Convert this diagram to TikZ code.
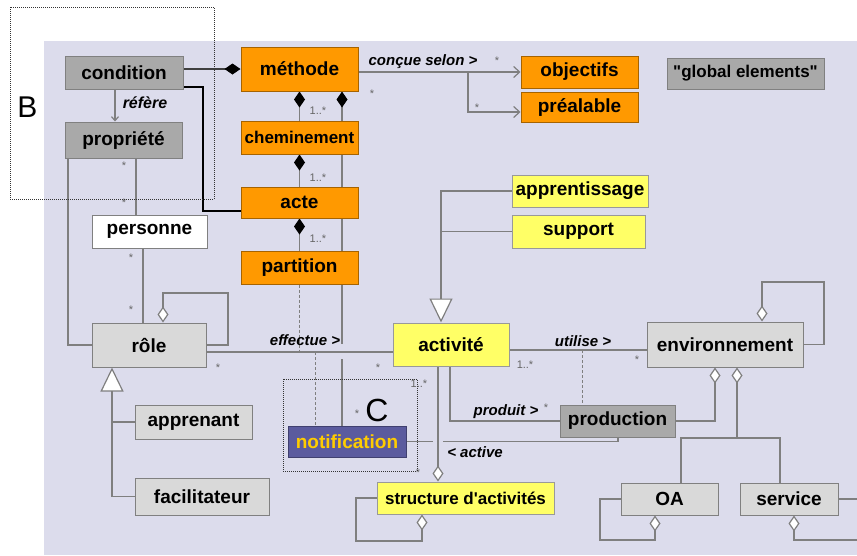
\documentclass[tikz,border=0pt]{standalone}
\usepackage{fontspec}
\setmainfont{Liberation Sans}[Ligatures=TeXOff]
\usetikzlibrary{arrows.meta}

\definecolor{paper}{HTML}{DCDCEC}
\definecolor{umlorange}{HTML}{FF9900}
\definecolor{umlyellow}{HTML}{FFFF66}
\definecolor{umldark}{HTML}{A9A9A9}
\definecolor{umllight}{HTML}{D9D9D9}
\definecolor{umlnavy}{HTML}{5B5B9E}
\definecolor{umlgold}{HTML}{FFCC00}
\definecolor{edgegray}{HTML}{7F7F7F}

\pgfdeclarelayer{bg}
\pgfdeclarelayer{edges}
\pgfsetlayers{bg,edges,main}

\begin{document}
\begin{tikzpicture}[x=1pt, y=-1pt,
	classbox/.style={draw=black!50, line width=1pt, inner sep=0pt,
		font=\bfseries\fontsize{19}{21}\selectfont},
	darkbox/.style={classbox, fill=umldark},
	lightbox/.style={classbox, fill=umllight},
	whitebox/.style={classbox, fill=white},
	orangebox/.style={classbox, fill=umlorange, draw=umlorange!65!black},
	yellowbox/.style={classbox, fill=umlyellow, draw=black!40},
	notebox/.style={classbox, fill=umlnavy, draw=umlnavy!70!black, text=umlgold},
	conn/.style={draw=edgegray, line width=1.2pt},
	dashline/.style={conn, dash pattern=on 3pt off 2pt, line width=1pt},
	comp start/.style={{Diamond[length=16pt,width=11pt,color=black]}-},
	comp end/.style={-{Diamond[length=16pt,width=11pt,color=black]}},
	aggr end/.style={-{Diamond[length=16pt,width=11pt,fill=white]}},
	gen end/.style={-{Triangle[length=24pt,width=23pt,fill=white]}},
	nav end/.style={-{Straight Barb[length=6pt,width=11pt]}},
	lbl/.style={inner sep=0pt, font=\bfseries\itshape\fontsize{15}{17}\selectfont},
	mult/.style={inner sep=0pt, text=black!60, font=\fontsize{11}{12}\selectfont},
	marker/.style={inner sep=0pt, font=\fontsize{30}{32}\selectfont}]

	\useasboundingbox (0,0) rectangle (857,555);
	\begin{pgfonlayer}{bg}
		\fill[paper] (44,41) rectangle (857,555);
	\end{pgfonlayer}

	% classes
	\node[darkbox, minimum width=118pt, minimum height=33pt] (condition) at (124,72.5) {condition};
	\node[darkbox, minimum width=117pt, minimum height=36pt] (propriete) at (123.5,140) {propriété};
	\node[orangebox, minimum width=117pt, minimum height=44pt] (methode) at (299.5,69) {méthode};
	\node[orangebox, minimum width=117pt, minimum height=33pt,
		font=\bfseries\fontsize{17}{19}\selectfont] (cheminement) at (299.5,137.5) {cheminement};
	\node[orangebox, minimum width=117pt, minimum height=31pt] (acte) at (299.5,202.5) {acte};
	\node[orangebox, minimum width=117pt, minimum height=33pt] (partition) at (299.5,267.5) {partition};
	\node[orangebox, minimum width=117pt, minimum height=32pt] (objectifs) at (579.5,72) {objectifs};
	\node[orangebox, minimum width=117pt, minimum height=30pt] (prealable) at (579.5,107) {préalable};
	\node[darkbox, minimum width=157pt, minimum height=31pt,
		font=\bfseries\fontsize{17}{19}\selectfont] (global) at (745.5,73.5) {"global elements"};
	\node[yellowbox, minimum width=136pt, minimum height=32pt] (apprentissage) at (580,191) {apprentissage};
	\node[yellowbox, minimum width=133pt, minimum height=33pt] (support) at (578.5,231.5) {support};
	\node[whitebox, minimum width=115pt, minimum height=33pt] (personne) at (149.5,231.5) {personne};
	\node[lightbox, minimum width=114pt, minimum height=44pt] (role) at (149,345) {rôle};
	\node[lightbox, minimum width=117pt, minimum height=34pt] (apprenant) at (193.5,422) {apprenant};
	\node[lightbox, minimum width=134pt, minimum height=37pt] (facilitateur) at (202,496.5) {facilitateur};
	\node[yellowbox, minimum width=116pt, minimum height=43pt] (activite) at (451,344.5) {activité};
	\node[lightbox, minimum width=156pt, minimum height=45pt] (environnement) at (725,344.5) {environnement};
	\node[darkbox, minimum width=115pt, minimum height=32pt] (production) at (617.5,421) {production};
	\node[notebox, minimum width=118pt, minimum height=31pt] (notification) at (347,441.5) {notification};
	\node[yellowbox, minimum width=177pt, minimum height=32pt,
		font=\bfseries\fontsize{17}{19}\selectfont] (structure) at (465.5,498) {structure d'activités};
	\node[lightbox, minimum width=97pt, minimum height=32pt] (oa) at (669.5,499) {OA};
	\node[lightbox, minimum width=98pt, minimum height=32pt] (service) at (789,499) {service};

	% bends and attachment points
	\coordinate (ca) at (203,87);
	\coordinate (cb) at (203,211);
	\coordinate (rx) at (115,0);
	\coordinate (px) at (136,0);
	\coordinate (pl) at (68,345);
	\coordinate (rx2) at (143,0);
	\coordinate (ra) at (228,293);
	\coordinate (rd) at (163,0);
	\coordinate (ed) at (315,352);
	\coordinate (mx) at (342,0);
	\coordinate (mj1) at (342,344);
	\coordinate (mj2) at (342,359);
	\coordinate (cs1) at (468,72);
	\coordinate (cs2) at (468,112);
	\coordinate (gx) at (441,0);
	\coordinate (gr) at (112,0);
	\coordinate (uy) at (582,350);
	\coordinate (pdx) at (450,0);
	\coordinate (ea) at (824,282);
	\coordinate (ex) at (762,0);
	\coordinate (pa) at (715,0);
	\coordinate (sx) at (737,438);
	\coordinate (oj) at (681,0);
	\coordinate (sj) at (780,438);
	\coordinate (ol) at (600,540);
	\coordinate (od) at (655,0);
	\coordinate (sv) at (857,540);
	\coordinate (sd) at (794,0);
	\coordinate (stx) at (438,0);
	\coordinate (aj1) at (433,441.5);
	\coordinate (aj2) at (443,441.5);
	\coordinate (ax) at (618,0);
	\coordinate (sl) at (356,541);
	\coordinate (sdx) at (422,0);

	\begin{pgfonlayer}{edges}
		\draw[conn, draw=black!75, comp end] (condition.east |- methode.west) -- (methode.west);
		\draw[conn, draw=black, line width=1.5pt] (condition.east |- ca) -- (ca) -- (cb) -- (acte.west |- cb);
		\draw[conn, -{Straight Barb[length=4pt,width=7pt]}] (condition.south -| rx) -- (propriete.north -| rx);
		\draw[conn] (propriete.south -| px) -- (personne.north -| px);
		\draw[conn] (propriete.south -| pl) -- (pl) -- (role.west |- pl);
		\draw[conn] (personne.south -| rx2) -- (role.north -| rx2);
		\draw[conn, aggr end] (role.east) -| (ra) -| (role.north -| rd);
		\draw[conn] (role.east |- ed) -- (activite.west |- ed);
		\draw[dashline] (partition.south) -- (partition.south |- ed);
		\draw[dashline] (ed) -- (notification.north -| ed);
		\draw[conn, comp start] (methode.south -| mx) -- (mj1);
		\draw[conn] (mj2) -- (notification.north -| mx);
		\draw[conn, comp start] (methode.south) -- (cheminement.north);
		\draw[conn, comp start] (cheminement.south) -- (acte.north);
		\draw[conn, comp start] (acte.south) -- (partition.north);
		\draw[conn, nav end] (methode.east |- objectifs.west) -- (objectifs.west);
		\draw[conn, nav end] (cs1) -- (cs2) -- (prealable.west |- cs2);
		\draw[conn, gen end] (apprentissage.west) -| (activite.north -| gx);
		\draw[conn] (support.west) -- (support.west -| gx);
		\draw[conn, gen end] (facilitateur.west) -| (role.south -| gr);
		\draw[conn] (apprenant.west) -- (apprenant.west -| gr);
		\draw[conn] (activite.east |- uy) -- (environnement.west |- uy);
		\draw[dashline] (uy) -- (production.north -| uy);
		\draw[conn] (activite.south -| pdx) |- (production.west);
		\draw[conn, aggr end] (environnement.east) -| (ea) -| (environnement.north -| ex);
		\draw[conn, aggr end] (production.east) -| (environnement.south -| pa);
		\draw[conn, aggr end] (sx) -- (environnement.south -| sx);
		\draw[conn] (oa.north -| oj) |- (sj) -- (service.north -| sj);
		\draw[conn, aggr end] (oa.west) -| (ol) -| (oa.south -| od);
		\draw[conn, aggr end] (sv) -| (service.south -| sd);
		\draw[conn] (service.east) -- (service.east -| sv);
		\draw[conn, aggr end] (activite.south -| stx) -- (structure.north -| stx);
		\draw[conn] (notification.east) -- (aj1);
		\draw[conn] (aj2) -| (production.south -| ax);
		\draw[conn, aggr end] (structure.west) -| (sl) -| (structure.south -| sdx);
	\end{pgfonlayer}

	% association names
	\node[lbl, font=\bfseries\itshape\fontsize{16}{18}\selectfont] (refere) at (145,103) {réfère};
	\node[lbl] (concue) at (423,62) {conçue selon >};
	\node[lbl] (effectue) at (305,340) {effectue >};
	\node[lbl] (utilise) at (583,341) {utilise >};
	\node[lbl] (produit) at (506,412) {produit >};
	\node[lbl] (active) at (475,452) {< active};

	% multiplicities
	\node[mult] (m1) at (124,166) {*};
	\node[mult] (m2) at (124,203) {*};
	\node[mult] (m3) at (131,258) {*};
	\node[mult] (m4) at (131,310) {*};
	\node[mult] (m5) at (318,111) {1..*};
	\node[mult] (m6) at (318,178) {1..*};
	\node[mult] (m7) at (318,239) {1..*};
	\node[mult] (m8) at (372,94) {*};
	\node[mult] (m9) at (497,61) {*};
	\node[mult] (m10) at (477,108) {*};
	\node[mult] (m11) at (218,368) {*};
	\node[mult] (m12) at (378,368) {*};
	\node[mult] (m13) at (419,384) {1..*};
	\node[mult] (m14) at (418,473) {*};
	\node[mult] (m15) at (357,414) {*};
	\node[mult] (m16) at (525,365) {1..*};
	\node[mult] (m17) at (637,360) {*};
	\node[mult] (m18) at (546,408) {*};

	% markers B and C
	\draw[black!80, line width=0.8pt, dash pattern=on 1pt off 1pt] (10,7) rectangle (214,199);
	\node[marker] (blabel) at (27.5,107.5) {B};
	\draw[black!80, line width=0.8pt, dash pattern=on 1pt off 1pt] (283,379) rectangle (417,471);
	\node[marker, font=\fontsize{32}{34}\selectfont] (clabel) at (377,410) {C};
\end{tikzpicture}
\end{document}
